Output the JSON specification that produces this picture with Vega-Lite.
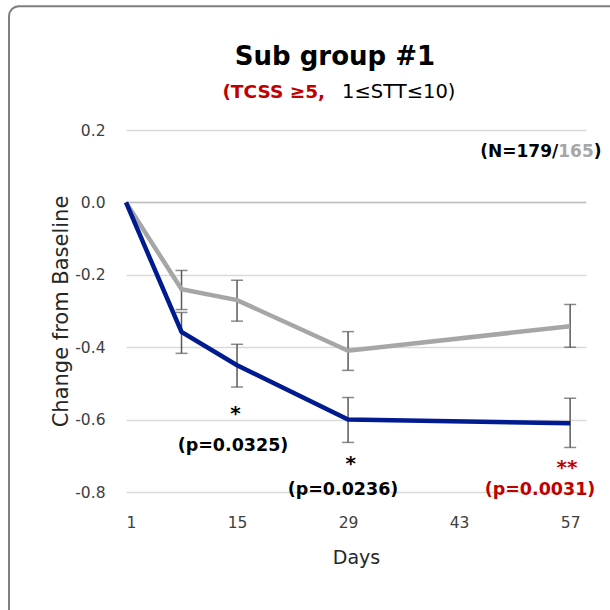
{
  "$schema": "https://vega.github.io/schema/vega-lite/v6.json",
  "autosize": "none",
  "width": 460,
  "height": 362,
  "padding": {"left": 126, "top": 130, "right": 24, "bottom": 118},
  "background": "white",
  "config": {"font": "DejaVu Sans", "view": {"stroke": null}},
  "datasets": {
    "series": [
      {"group": "Drug", "day": 1, "value": 0, "lo": null, "hi": null},
      {"group": "Drug", "day": 8, "value": -0.358, "lo": -0.417, "hi": -0.304},
      {"group": "Drug", "day": 15, "value": -0.45, "lo": -0.51, "hi": -0.392},
      {"group": "Drug", "day": 29, "value": -0.60, "lo": -0.663, "hi": -0.539},
      {"group": "Drug", "day": 57, "value": -0.61, "lo": -0.677, "hi": -0.541},
      {"group": "Placebo", "day": 1, "value": 0, "lo": null, "hi": null},
      {"group": "Placebo", "day": 8, "value": -0.24, "lo": -0.296, "hi": -0.188},
      {"group": "Placebo", "day": 15, "value": -0.27, "lo": -0.328, "hi": -0.215},
      {"group": "Placebo", "day": 29, "value": -0.41, "lo": -0.464, "hi": -0.357},
      {"group": "Placebo", "day": 57, "value": -0.342, "lo": -0.40, "hi": -0.282}
    ],
    "stars": [
      {"label": "*", "day": 14.8, "value": -0.600, "tone": "black"},
      {"label": "*", "day": 29.33, "value": -0.738, "tone": "black"},
      {"label": "**", "day": 56.6, "value": -0.749, "tone": "red"}
    ],
    "pvalues": [
      {"label": "(p=0.0325)", "day": 14.49, "value": -0.673, "tone": "black"},
      {"label": "(p=0.0236)", "day": 28.36, "value": -0.794, "tone": "black"},
      {"label": "(p=0.0031)", "day": 53.2, "value": -0.794, "tone": "red"}
    ]
  },
  "layer": [
    {
      "data": {"values": [{}]},
      "mark": {"type": "rect", "filled": false, "stroke": "#808080", "strokeWidth": 2, "cornerRadius": 10, "clip": false},
      "encoding": {
        "x": {"datum": -13.75, "type": "quantitative"},
        "x2": {"datum": 66},
        "y": {"datum": 0.542, "type": "quantitative"},
        "y2": {"datum": -1.25}
      }
    },
    {
      "data": {"values": [{}]},
      "mark": {"type": "rule", "color": "#bfbfbf", "strokeWidth": 1.5},
      "encoding": {"y": {"datum": 0, "type": "quantitative"}}
    },
    {
      "data": {"name": "series"},
      "transform": [{"filter": "datum.hi != null"}],
      "mark": {"type": "errorbar", "ticks": {"size": 12, "thickness": 1.5, "color": "#595959"}, "rule": {"strokeWidth": 1.5, "color": "#595959"}},
      "encoding": {
        "x": {"field": "day", "type": "quantitative"},
        "y": {"field": "hi", "type": "quantitative", "title": "Change from Baseline"},
        "y2": {"field": "lo"}
      }
    },
    {
      "data": {"name": "series"},
      "transform": [{"filter": "datum.group == 'Placebo'"}],
      "mark": {"type": "line", "color": "#a6a6a6", "strokeWidth": 4.5},
      "encoding": {
        "x": {"field": "day", "type": "quantitative", "scale": {"domain": [1, 59], "nice": false, "zero": false},
          "axis": {"values": [1, 15, 29, 43, 57], "title": "Days", "grid": false, "domain": false, "ticks": false, "labelFontSize": 15.5, "labelColor": "#404040", "labelPadding": 23, "titleFontSize": 19, "titleFontWeight": "normal", "titleColor": "#262626", "titlePadding": 18}},
        "y": {"field": "value", "type": "quantitative", "scale": {"domain": [-0.8, 0.2], "nice": false, "zero": false},
          "axis": {"values": [-0.8, -0.6, -0.4, -0.2, 0, 0.2], "labelExpr": "datum.value < -0.0001 ? '-' + format(-datum.value, '.1f') : format(datum.value, '.1f')", "title": "Change from Baseline", "grid": true, "gridColor": "#d9d9d9", "gridWidth": 1.5, "domain": false, "ticks": false, "labelFontSize": 15.5, "labelColor": "#404040", "labelPadding": 21, "titleFontSize": 21, "titleFontWeight": "normal", "titleColor": "#262626", "titlePadding": 3}}
      }
    },
    {
      "data": {"name": "series"},
      "transform": [{"filter": "datum.group == 'Drug'"}],
      "mark": {"type": "line", "color": "#001a8f", "strokeWidth": 4.5},
      "encoding": {
        "x": {"field": "day", "type": "quantitative"},
        "y": {"field": "value", "type": "quantitative"}
      }
    },
    {
      "data": {"name": "stars"},
      "mark": {"type": "text", "fontSize": 20, "fontWeight": "bold", "baseline": "alphabetic", "align": "center"},
      "encoding": {
        "x": {"field": "day", "type": "quantitative"},
        "y": {"field": "value", "type": "quantitative"},
        "text": {"field": "label"},
        "color": {"field": "tone", "type": "nominal", "scale": {"domain": ["black", "red"], "range": ["#000000", "#c00000"]}, "legend": null}
      }
    },
    {
      "data": {"name": "pvalues"},
      "mark": {"type": "text", "fontSize": 17.5, "fontWeight": "bold", "baseline": "middle", "align": "center"},
      "encoding": {
        "x": {"field": "day", "type": "quantitative"},
        "y": {"field": "value", "type": "quantitative"},
        "text": {"field": "label"},
        "color": {"field": "tone", "type": "nominal", "scale": {"domain": ["black", "red"], "range": ["#000000", "#c00000"]}, "legend": null}
      }
    },
    {
      "data": {"values": [{"label": "Sub group #1", "day": 27.35, "value": 0.4017}]},
      "mark": {"type": "text", "fontSize": 26, "fontWeight": "bold", "baseline": "middle", "align": "center", "color": "#000000"},
      "encoding": {"x": {"field": "day", "type": "quantitative"}, "y": {"field": "value", "type": "quantitative"}, "text": {"field": "label"}}
    },
    {
      "data": {"values": [{"label": "(TCSS ≥5,", "day": 26.1, "value": 0.305}]},
      "mark": {"type": "text", "fontSize": 18.5, "fontWeight": "bold", "baseline": "middle", "align": "right", "color": "#c00000"},
      "encoding": {"x": {"field": "day", "type": "quantitative"}, "y": {"field": "value", "type": "quantitative"}, "text": {"field": "label"}}
    },
    {
      "data": {"values": [{"label": "1≤STT≤10)", "day": 28.24, "value": 0.305}]},
      "mark": {"type": "text", "fontSize": 19.5, "fontWeight": "normal", "baseline": "middle", "align": "left", "color": "#000000"},
      "encoding": {"x": {"field": "day", "type": "quantitative"}, "y": {"field": "value", "type": "quantitative"}, "text": {"field": "label"}}
    },
    {
      "data": {"values": [{"label": "(N=179/", "day": 55.5, "value": 0.139}]},
      "mark": {"type": "text", "fontSize": 17, "fontWeight": "bold", "baseline": "middle", "align": "right", "color": "#000000"},
      "encoding": {"x": {"field": "day", "type": "quantitative"}, "y": {"field": "value", "type": "quantitative"}, "text": {"field": "label"}}
    },
    {
      "data": {"values": [{"label": "165", "day": 55.5, "value": 0.139}]},
      "mark": {"type": "text", "fontSize": 17, "fontWeight": "bold", "baseline": "middle", "align": "left", "color": "#a6a6a6"},
      "encoding": {"x": {"field": "day", "type": "quantitative"}, "y": {"field": "value", "type": "quantitative"}, "text": {"field": "label"}}
    },
    {
      "data": {"values": [{"label": ")", "day": 59.98, "value": 0.139}]},
      "mark": {"type": "text", "fontSize": 17, "fontWeight": "bold", "baseline": "middle", "align": "left", "color": "#000000"},
      "encoding": {"x": {"field": "day", "type": "quantitative"}, "y": {"field": "value", "type": "quantitative"}, "text": {"field": "label"}}
    }
  ]
}
